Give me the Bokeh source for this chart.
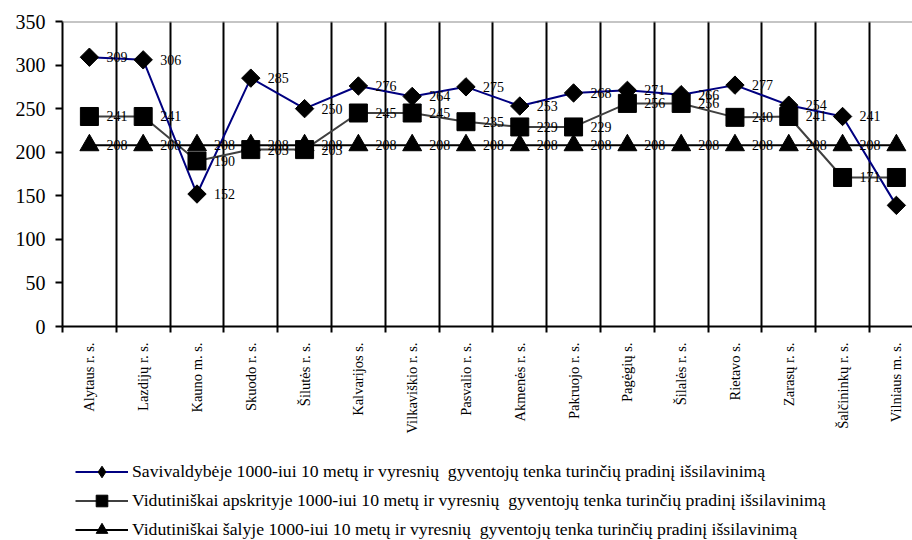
import math
from bokeh.plotting import figure
from bokeh.layouts import column
from bokeh.models import ColumnDataSource, Range1d, FixedTicker, Span, Legend, LegendItem
from bokeh.core.properties import value
from bokeh.embed import file_html
from bokeh.resources import INLINE

categories = ["Alytaus r. s.", "Lazdijų r. s.", "Kauno m. s.", "Skuodo r. s.", "Šilutės r. s.",
              "Kalvarijos s.", "Vilkaviškio r. s.", "Pasvalio r. s.", "Akmenės r. s.", "Pakruojo r. s.",
              "Pagėgių s.", "Šilalės r. s.", "Rietavo s.", "Zarasų r. s.", "Šalčininkų r. s.", "Vilniaus m. s."]
savivaldybe = [309, 306, 152, 285, 250, 276, 264, 275, 253, 268, 271, 266, 277, 254, 241, 139]
apskritis = [241, 241, 190, 203, 203, 245, 245, 235, 229, 229, 256, 256, 240, 241, 171, 171]
salis = [208, 208, 208, 208, 208, 208, 208, 208, 208, 208, 208, 208, 208, 208, 208, 208]
y_ticks = [0, 50, 100, 150, 200, 250, 300, 350]
series_names = [
    "Savivaldybėje 1000-iui 10 metų ir vyresnių  gyventojų tenka turinčių pradinį išsilavinimą",
    "Vidutiniškai apskrityje 1000-iui 10 metų ir vyresnių  gyventojų tenka turinčių pradinį išsilavinimą",
    "Vidutiniškai šalyje 1000-iui 10 metų ir vyresnių  gyventojų tenka turinčių pradinį išsilavinimą",
]
line_colors = ["#000080", "#404040", "black"]

SERIF = "Liberation Serif"
xs = list(range(len(categories)))
boundaries = [i - 0.5 for i in range(len(categories) + 1)]

p = figure(width=912, height=440, output_backend="svg", toolbar_location=None,
           x_range=Range1d(-0.5, 15.3), y_range=Range1d(0, 350),
           min_border_left=62, min_border_right=0, min_border_top=21, min_border_bottom=114)
p.outline_line_color = None
p.background_fill_color = "white"
p.border_fill_color = "white"

# grid
p.ygrid.grid_line_color = None
p.xgrid.ticker = FixedTicker(ticks=boundaries)
p.xgrid.grid_line_color = "black"
p.xgrid.grid_line_width = 2

# y axis
p.yaxis.ticker = FixedTicker(ticks=y_ticks)
p.yaxis.axis_line_width = 2
p.yaxis.axis_line_color = "black"
p.yaxis.major_tick_out = 7
p.yaxis.major_tick_in = 0
p.yaxis.major_tick_line_width = 2
p.yaxis.major_tick_line_color = "black"
p.yaxis.minor_tick_line_color = None
p.yaxis.major_label_text_font = SERIF
p.yaxis.major_label_text_font_size = "20px"
p.yaxis.major_label_text_color = "black"
p.yaxis.major_label_standoff = 10

# x axis
p.xaxis.ticker = FixedTicker(ticks=xs, minor_ticks=boundaries)
p.xaxis.major_label_overrides = {i: c for i, c in zip(xs, categories)}
p.xaxis.axis_line_width = 2
p.xaxis.axis_line_color = "black"
p.xaxis.major_tick_line_color = None
p.xaxis.major_tick_out = 0
p.xaxis.major_tick_in = 0
p.xaxis.minor_tick_out = 6
p.xaxis.minor_tick_in = 0
p.xaxis.minor_tick_line_width = 2
p.xaxis.minor_tick_line_color = "black"
p.xaxis.major_label_orientation = math.pi / 2
p.xaxis.major_label_text_font = SERIF
p.xaxis.major_label_text_font_size = "14.5px"
p.xaxis.major_label_text_color = "black"
p.xaxis.major_label_standoff = 10

p.add_layout(Span(location=350, dimension="width", line_color="#8c8c8c", line_width=2))

src = ColumnDataSource(dict(
    x=xs, s1=savivaldybe, s2=apskritis, s3=salis,
    t1=[str(v) for v in savivaldybe], t2=[str(v) for v in apskritis], t3=[str(v) for v in salis],
))

p.line("x", "s1", source=src, line_color=line_colors[0], line_width=2)
p.line("x", "s2", source=src, line_color=line_colors[1], line_width=2)
p.line("x", "s3", source=src, line_color=line_colors[2], line_width=2)

p.scatter("x", "s1", source=src, marker="square", angle=math.pi / 4, size=13,
          fill_color="black", line_color="black", line_width=1)
p.scatter("x", "s2", source=src, marker="square", size=18,
          fill_color="black", line_color="black", line_width=1)
p.scatter("x", "s3", source=src, marker="triangle", size=19,
          fill_color="black", line_color="black", line_width=1)

for col, ycol in (("t1", "s1"), ("t2", "s2"), ("t3", "s3")):
    p.text("x", ycol, text=col, source=src, x_offset=17, text_align="left",
           text_baseline="middle", text_font=value(SERIF), text_font_size="14px",
           text_color="black")

# legend panel (separate figure under the chart)
leg = figure(width=912, height=100, output_backend="svg", toolbar_location=None,
             x_range=Range1d(0, 1), y_range=Range1d(0, 1),
             min_border_left=62, min_border_right=0, min_border_top=0, min_border_bottom=0)
leg.axis.visible = False
leg.grid.visible = False
leg.outline_line_color = None
leg.background_fill_color = "white"
leg.border_fill_color = "white"

# placeholder source: a single NaN point, so legend swatches render but nothing is plotted
dummy = ColumnDataSource(dict(x=[float("nan")], y=[float("nan")]))
items = []
markers = ["diamond", "square", "triangle"]
for name, lc, mk in zip(series_names, line_colors, markers):
    lr = leg.line("x", "y", source=dummy, line_color=lc, line_width=2)
    mr = leg.scatter("x", "y", source=dummy, marker=mk, size=12,
                     fill_color="black", line_color="black", line_width=1)
    items.append(LegendItem(label=name, renderers=[lr, mr]))

legend = Legend(items=items, location=(13, -4))
legend.padding = 0
legend.margin = 0
legend.spacing = 0
legend.glyph_width = 53
legend.glyph_height = 29
legend.label_height = 20
legend.label_standoff = 4
legend.border_line_color = None
legend.background_fill_color = None
legend.background_fill_alpha = 0
legend.label_text_font = SERIF
legend.label_text_font_size = "17.7px"
legend.label_text_color = "black"
leg.add_layout(legend, "center")

open("out.html", "w").write(file_html(column(p, leg, spacing=0), INLINE))
